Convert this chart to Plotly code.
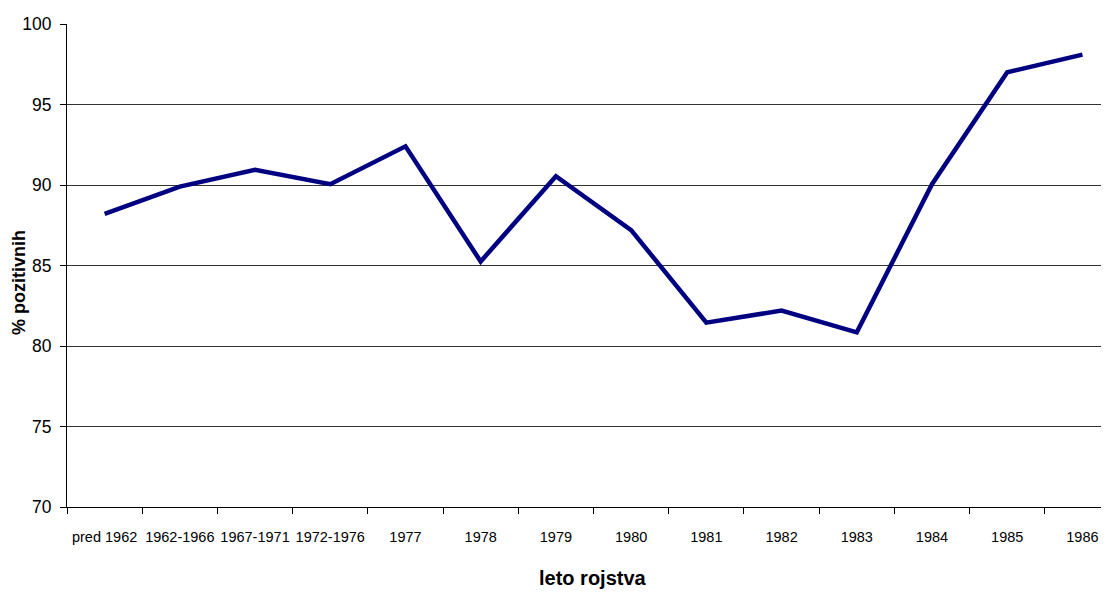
import plotly.graph_objects as go

categories = ["pred 1962", "1962-1966", "1967-1971", "1972-1976", "1977", "1978", "1979",
              "1980", "1981", "1982", "1983", "1984", "1985", "1986"]
values = [88.2, 89.9, 90.95, 90.05, 92.4, 85.25, 90.55, 87.2, 81.45, 82.2, 80.85, 90.05, 97.0, 98.1]
y_ticks = [70, 75, 80, 85, 90, 95, 100]

sans = "Liberation Sans, Arial, sans-serif"

fig = go.Figure()
fig.add_trace(go.Scatter(
    x=categories, y=values, mode="lines",
    line=dict(color="#000080", width=4.5),
    showlegend=False, hoverinfo="x+y",
))

# page body has an 8px margin, so the figure is offset by (8, 8)
fig.update_layout(
    width=1101, height=585,
    margin=dict(l=59, r=1, t=16, b=86, autoexpand=False),
    paper_bgcolor="white", plot_bgcolor="white",
    font=dict(family=sans, color="black"),
    annotations=[
        dict(text="<b>leto rojstva</b>", xref="paper", yref="paper",
             x=(593 - 67) / 1041, y=(507 - 578) / 483, xanchor="center", yanchor="middle",
             showarrow=False, font=dict(size=20, family=sans)),
        dict(text="<b>% pozitivnih</b>", xref="paper", yref="paper",
             x=(19 - 67) / 1041, y=(507 - 283) / 483, xanchor="center", yanchor="middle",
             textangle=-90, showarrow=False, font=dict(size=18, family=sans)),
    ],
)
fig.update_xaxes(
    type="category", range=[-0.5, 13.34], automargin=False,
    tickson="boundaries", ticks="outside", ticklen=6, tickcolor="black", tickwidth=1,
    showline=True, linecolor="black", linewidth=1, showgrid=False,
    tickangle=0, tickfont=dict(size=14.5, family=sans), ticklabelstandoff=17,
)
fig.update_yaxes(
    range=[70, 100], tickvals=y_ticks, automargin=False,
    ticks="outside", ticklen=6, tickcolor="black", tickwidth=1,
    showline=True, linecolor="black", linewidth=1,
    showgrid=True, gridcolor="#333333", gridwidth=1, zeroline=False,
    tickfont=dict(size=17.5, family=sans), ticklabelstandoff=5,
)

fig.write_html("out.html")
